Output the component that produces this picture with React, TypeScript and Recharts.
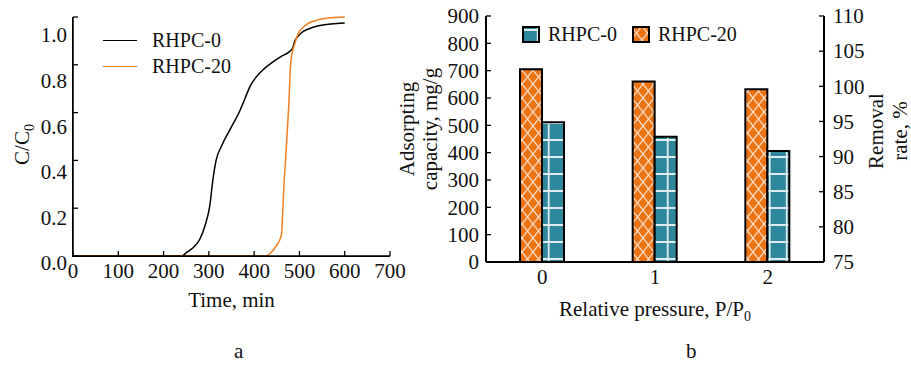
import { ComposedChart, Line, XAxis, YAxis, BarChart, Bar, Legend } from "recharts";

const FONT = '"Liberation Serif", "Times New Roman", serif';
const ORANGE = "#EC7314";
const LINE_ORANGE = "#EF7F22";
const TEAL = "#2F879B";

// (a) breakthrough curves
const TIME_RHPC0 = [0, 240, 251, 268, 280, 292, 302, 309, 316, 328, 347, 369, 380, 391, 405, 420, 440, 460, 478, 485, 490, 495, 505, 520, 540, 570, 600];
const CC0_RHPC0 = [0, 0, 0.015, 0.04, 0.07, 0.13, 0.21, 0.32, 0.4, 0.46, 0.53, 0.61, 0.66, 0.71, 0.75, 0.78, 0.81, 0.835, 0.855, 0.87, 0.9, 0.915, 0.935, 0.95, 0.962, 0.971, 0.975];
const TIME_RHPC20 = [0, 424, 440, 450, 458, 461, 463, 466, 470, 474, 477, 479, 481, 484, 490, 497, 510, 523, 540, 560, 600];
const CC0_RHPC20 = [0, 0, 0.02, 0.046, 0.075, 0.1, 0.18, 0.3, 0.42, 0.55, 0.65, 0.75, 0.81, 0.85, 0.89, 0.93, 0.96, 0.977, 0.988, 0.995, 1.0];
const TIME_TICKS = [0, 100, 200, 300, 400, 500, 600, 700];
const CC0_TICKS = [0, 0.2, 0.4, 0.6, 0.8, 1.0];
const CURVES = [
  { key: "c0", name: "RHPC-0", color: "#000" },
  { key: "c20", name: "RHPC-20", color: LINE_ORANGE },
];

// (b) adsorption capacity bars
const PRESSURE = ["0", "1", "2"];
const CAP_RHPC20 = [705, 660, 632];
const CAP_RHPC0 = [511, 458, 406];
const CAP_TICKS = [0, 100, 200, 300, 400, 500, 600, 700, 800, 900];
const RATE_TICKS = [75, 80, 85, 90, 95, 100, 105, 110];
const LEGEND_ORDER = ["RHPC-0", "RHPC-20"];

// one row per time point, each curve keeps its own samples (gaps joined by connectNulls)
const curveData = Array.from(new Set([...TIME_RHPC0, ...TIME_RHPC20]))
  .sort((a, b) => a - b)
  .map((t) => {
    const i0 = TIME_RHPC0.indexOf(t);
    const i20 = TIME_RHPC20.indexOf(t);
    return { t, c0: i0 >= 0 ? CC0_RHPC0[i0] : null, c20: i20 >= 0 ? CC0_RHPC20[i20] : null };
  });
const barData = PRESSURE.map((p, i) => ({ p, rhpc20: CAP_RHPC20[i], rhpc0: CAP_RHPC0[i] }));

const FS = 21;
const tickFont = { fill: "#111", fontSize: FS, fontFamily: FONT };
const PATTERN = { "RHPC-0": "url(#pat-teal)", "RHPC-20": "url(#pat-orange)" } as Record<string, string>;
const TICK_LEN = 5;

// ticks point into the plot; label gap is the axis tickMargin
const leftTick = (gap: number, fmt: (v: number) => string, shift?: (v: number) => number) => (p: any) => {
  const v = p.payload.value as number;
  const ax = p.x + gap;
  return (
    <g>
      <line x1={ax} x2={ax + TICK_LEN} y1={p.y} y2={p.y} stroke="#000" strokeWidth={1.3} />
      <text x={p.x} y={p.y + (shift ? shift(v) : 0)} dy="0.35em" textAnchor="end" {...tickFont}>
        {fmt(v)}
      </text>
    </g>
  );
};

const rightTick = (gap: number) => (p: any) => {
  const ax = p.x - gap;
  return (
    <g>
      <line x1={ax} x2={ax - TICK_LEN} y1={p.y} y2={p.y} stroke="#000" strokeWidth={1.3} />
      <text x={p.x} y={p.y} dy="0.35em" textAnchor="start" {...tickFont}>
        {p.payload.value}
      </text>
    </g>
  );
};

const bottomTick = (gap: number, withLine: boolean) => (p: any) => {
  const ay = p.y - gap;
  return (
    <g>
      {withLine && <line x1={p.x} x2={p.x} y1={ay} y2={ay - TICK_LEN} stroke="#000" strokeWidth={1.3} />}
      <text x={p.x} y={p.y} dy="0.72em" textAnchor="middle" {...tickFont}>
        {p.payload.value}
      </text>
    </g>
  );
};

const BarLegend = () => (
  <div style={{ display: "flex", alignItems: "center", fontFamily: FONT, fontSize: 20, color: "#111" }}>
    {LEGEND_ORDER.map((name) => (
      <div key={name} style={{ display: "flex", alignItems: "center", marginRight: 15 }}>
        <svg width={18} height={17} style={{ marginRight: 8 }}>
          <rect x={1} y={1} width={16} height={15} fill={PATTERN[name]} stroke="#000" strokeWidth={2} />
        </svg>
        <span>{name}</span>
      </div>
    ))}
  </div>
);

const rotated = (x: number, y: number, txt: any) => (
  <text x={x} y={y} textAnchor="middle" transform={`rotate(-90, ${x}, ${y})`} {...tickFont}>
    {txt}
  </text>
);

export default function App() {
  return (
    <div style={{ position: "absolute", left: 0, top: 0, width: 911, height: 365, background: "#fff", fontFamily: FONT }}>
      <div style={{ position: "absolute", left: 380, top: 0 }}>
        <BarChart
          id="chart-b"
          width={531}
          height={330}
          data={barData}
          margin={{ top: 16, right: 27, bottom: 38, left: 46 }}
          barSize={22}
          barGap={0}
        >
          <defs>
            <pattern id="pat-orange" patternUnits="userSpaceOnUse" x={10} y={0} width={11} height={14}>
              <rect width={11} height={14} fill={ORANGE} />
              <path d="M0,0 L11,14 M11,0 L0,14" stroke="#fff" strokeOpacity={0.75} strokeWidth={1.3} />
            </pattern>
            <pattern id="pat-teal" patternUnits="userSpaceOnUse" x={0} y={0} width={17} height={17}>
              <rect width={17} height={17} fill={TEAL} />
              <path d="M0,4 L17,4 M15.7,0 L15.7,17" stroke="#fff" strokeOpacity={0.85} strokeWidth={1.8} />
            </pattern>
          </defs>
          <XAxis
            dataKey="p"
            height={30}
            axisLine={{ stroke: "#000", strokeWidth: 2 }}
            tickLine={false}
            tickSize={0}
            tickMargin={7}
            tick={bottomTick(7, false)}
            label={{
              content: (p: any) => (
                <text x={p.viewBox.x + p.viewBox.width / 2} y={316} textAnchor="middle" {...tickFont}>
                  Relative pressure, P/P<tspan fontSize={14} dy={5}>0</tspan>
                </text>
              ),
            }}
          />
          <YAxis
            yAxisId="cap"
            domain={[0, 900]}
            ticks={CAP_TICKS}
            interval={0}
            width={60}
            axisLine={{ stroke: "#000", strokeWidth: 2 }}
            tickLine={false}
            tickSize={0}
            tickMargin={7}
            tick={leftTick(7, (v) => String(v))}
            label={{
              content: (p: any) => {
                const cy = p.viewBox.y + p.viewBox.height / 2 - 10;
                return (
                  <g>
                    {rotated(34, cy, "Adsorpting")}
                    {rotated(57, cy, "capacity, mg/g")}
                  </g>
                );
              },
            }}
          />
          <YAxis
            yAxisId="rate"
            orientation="right"
            domain={[75, 110]}
            ticks={RATE_TICKS}
            interval={0}
            allowDataOverflow
            width={60}
            axisLine={{ stroke: "#000", strokeWidth: 2 }}
            tickLine={false}
            tickSize={0}
            tickMargin={9}
            tick={rightTick(9)}
            label={{
              content: (p: any) => {
                const cy = p.viewBox.y + p.viewBox.height / 2 - 8;
                return (
                  <g>
                    {rotated(p.viewBox.x + 59, cy, "Removal")}
                    {rotated(p.viewBox.x + 83, cy, "rate, %")}
                  </g>
                );
              },
            }}
          />
          <Legend
            layout="vertical"
            align="center"
            verticalAlign="middle"
            wrapperStyle={{ top: 23, left: 142, width: "auto" }}
            content={BarLegend}
          />
          <Bar yAxisId="cap" dataKey="rhpc20" name="RHPC-20" fill="url(#pat-orange)" stroke="#000" strokeWidth={2} isAnimationActive={false} />
          <Bar yAxisId="cap" dataKey="rhpc0" name="RHPC-0" fill="url(#pat-teal)" stroke="#000" strokeWidth={2} isAnimationActive={false} />
        </BarChart>
      </div>

      <div style={{ position: "absolute", left: 0, top: 0 }}>
        <ComposedChart id="chart-a" width={420} height={320} data={curveData} margin={{ top: 17, right: 30, bottom: 34, left: 13 }}>
          <XAxis
            type="number"
            dataKey="t"
            domain={[0, 700]}
            ticks={TIME_TICKS}
            interval={0}
            height={30}
            axisLine={{ stroke: "#000", strokeWidth: 1.5 }}
            tickLine={false}
            tickSize={0}
            tickMargin={7}
            tick={bottomTick(7, true)}
            label={{
              content: (p: any) => (
                <text x={p.viewBox.x + p.viewBox.width / 2} y={307} textAnchor="middle" {...tickFont}>
                  Time, min
                </text>
              ),
            }}
          />
          <YAxis
            type="number"
            domain={[0, 1]}
            ticks={CC0_TICKS}
            interval={0}
            width={60}
            axisLine={{ stroke: "#000", strokeWidth: 1.5 }}
            tickLine={false}
            tickSize={0}
            tickMargin={6}
            tick={leftTick(6, (v) => v.toFixed(1), (v) => 7 + 11 * v)}
            label={{
              content: (p: any) => rotated(p.viewBox.x + 16, p.viewBox.y + p.viewBox.height / 2 + 8, (
                <>
                  C/C<tspan fontSize={14} dy={5}>0</tspan>
                </>
              )),
            }}
          />
          {CURVES.map((c) => (
            <Line
              key={c.key}
              dataKey={c.key}
              name={c.name}
              type="monotone"
              connectNulls
              stroke={c.color}
              strokeWidth={1.5}
              dot={false}
              activeDot={false}
              isAnimationActive={false}
            />
          ))}
        </ComposedChart>
        {/* axis frame of panel a (the svg axis lines get hidden here) */}
        <div
          style={{
            position: "absolute",
            left: 72,
            top: 17,
            width: 318,
            height: 240,
            boxSizing: "border-box",
            borderLeft: "1.5px solid #000",
            borderBottom: "1.5px solid #000",
            pointerEvents: "none",
          }}
        />
        {/* line legend of panel a */}
        <div style={{ position: "absolute", left: 103, top: 27, fontFamily: FONT, fontSize: 20, color: "#111" }}>
          {CURVES.map((c) => (
            <div key={c.key} style={{ display: "flex", alignItems: "center", height: 26 }}>
              <div style={{ width: 34, borderTop: `1.5px solid ${c.color}`, marginRight: 15 }} />
              <span>{c.name}</span>
            </div>
          ))}
        </div>
      </div>

      <div style={{ position: "absolute", left: 234, top: 339, fontSize: FS, color: "#111" }}>a</div>
      <div style={{ position: "absolute", left: 686, top: 339, fontSize: FS, color: "#111" }}>b</div>
    </div>
  );
}
